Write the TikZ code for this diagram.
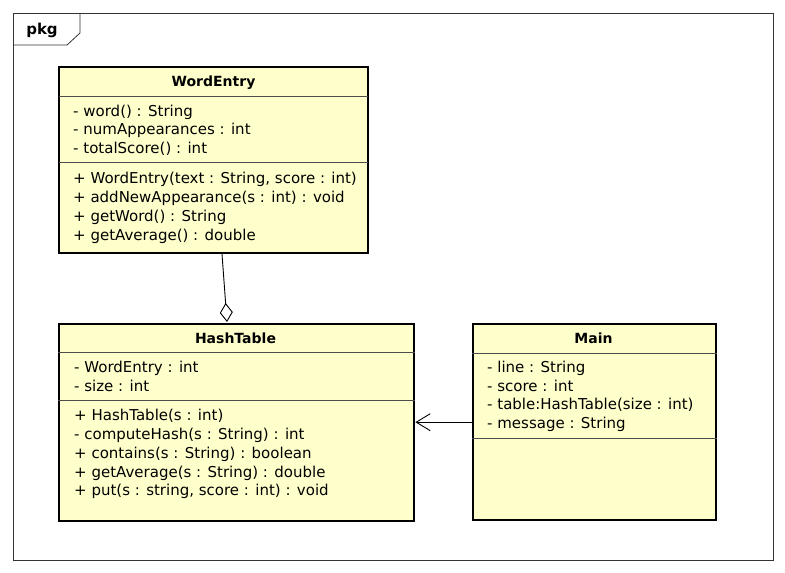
\documentclass[tikz,border=0pt]{standalone}
\usepackage{fontspec}
\setmainfont{DejaVu Sans}
\usetikzlibrary{arrows.meta}
\definecolor{classfill}{RGB}{255,255,204}
\tikzset{
  x=1pt, y=-1pt,
  classbox/.style={draw=black, line width=2.4pt, fill=classfill},
  sepline/.style={draw=black!70, line width=0.8pt},
  member/.style={anchor=west, inner sep=0pt, font=\fontsize{15}{17}\selectfont},
  cname/.style={inner sep=0pt, font=\fontsize{14}{16}\selectfont\bfseries},
  frameline/.style={draw=black!80, line width=0.8pt},
  link/.style={draw=black, line width=0.9pt}
}
\begin{document}
\begin{tikzpicture}
\useasboundingbox (0,0) rectangle (785,573);
\fill[white] (0,0) rectangle (785,573);

% package frame with its name tab
\draw[frameline] (13,13) rectangle (773,560);
\draw[frameline] (13,45) -- (67,45) -- (80,33) -- (80,13);
\node[cname, font=\fontsize{15}{17}\selectfont\bfseries] (pkg) at (42,30) {pkg};

% WordEntry
\path[classbox] (59,67) rectangle (368,253);
\node[cname] (wename) at (213.5,83) {WordEntry};
\draw[sepline] (59,96) -- (368,96);
\draw[sepline] (59,162) -- (368,162);
\node[member] (we1) at (73,112) {- word() : String};
\node[member] (we2) at (73,130) {- numAppearances : int};
\node[member] (we3) at (73,149) {- totalScore() : int};
\node[member] (we4) at (73,179) {+ WordEntry(text : String, score : int)};
\node[member] (we5) at (73,198) {+ addNewAppearance(s : int) : void};
\node[member] (we6) at (73,217) {+ getWord() : String};
\node[member] (we7) at (73,236) {+ getAverage() : double};

% HashTable
\node[classbox, anchor=north west, minimum width=355pt, minimum height=197pt, inner sep=0pt] (ht) at (58,323) {};
\node[cname] (htname) at (235.5,338) {HashTable};
\draw[sepline] (ht.west |- 0,352) -- (ht.east |- 0,352);
\draw[sepline] (ht.west |- 0,400) -- (ht.east |- 0,400);
\node[member] (ht1) at (74,368) {- WordEntry : int};
\node[member] (ht2) at (74,386) {- size : int};
\node[member] (ht3) at (74,416) {+ HashTable(s : int)};
\node[member] (ht4) at (74,435) {- computeHash(s : String) : int};
\node[member] (ht5) at (74,454) {+ contains(s : String) : boolean};
\node[member] (ht6) at (74,473) {+ getAverage(s : String) : double};
\node[member] (ht7) at (74,491) {+ put(s : string, score : int) : void};

% Main
\node[classbox, anchor=north west, minimum width=243pt, minimum height=196pt, inner sep=0pt] (mn) at (472,323) {};
\node[cname] (mnname) at (593.5,338) {Main};
\draw[sepline] (mn.west |- 0,353) -- (mn.east |- 0,353);
\draw[sepline] (mn.west |- 0,438) -- (mn.east |- 0,438);
\node[member] (mn1) at (487,368) {- line : String};
\node[member] (mn2) at (487,386) {- score : int};
\node[member] (mn3) at (487,405) {- table:HashTable(size : int)};
\node[member] (mn4) at (487,424) {- message : String};

% aggregation: HashTable holds WordEntry
\coordinate (aggfrom) at (222,254);
\coordinate (aggto) at (227,322);
\draw[link, -{Diamond[open, fill=white, length=19pt, width=13pt]}] (aggfrom) -- (aggto);

% navigable association from Main to HashTable
\draw[link, -{Straight Barb[length=14pt, width=17pt]}] (mn.west) -- (mn.west -| ht.east);
\end{tikzpicture}
\end{document}
